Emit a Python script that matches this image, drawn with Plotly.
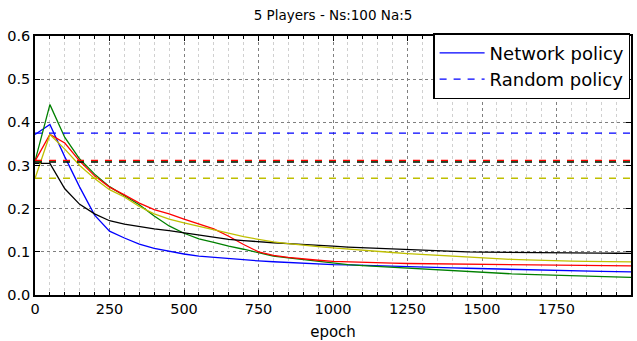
import plotly.graph_objects as go

epochs = list(range(0, 2001, 50))

net_blue = [0.372, 0.395, 0.32, 0.25, 0.185, 0.148, 0.132, 0.118, 0.108, 0.101,
            0.095, 0.090, 0.087, 0.084, 0.081, 0.079, 0.077, 0.075, 0.0735, 0.072,
            0.0705, 0.0697, 0.069, 0.068, 0.067, 0.066, 0.065, 0.064, 0.063, 0.062,
            0.061, 0.060, 0.059, 0.058, 0.057, 0.0565, 0.056, 0.055, 0.0545, 0.054, 0.0535]
net_green = [0.31, 0.441, 0.365, 0.315, 0.28, 0.251, 0.23, 0.209, 0.183, 0.16,
             0.143, 0.13, 0.122, 0.113, 0.106, 0.098, 0.090, 0.086, 0.082, 0.078,
             0.074, 0.0705, 0.068, 0.066, 0.064, 0.062, 0.060, 0.058, 0.0555, 0.0535,
             0.052, 0.0505, 0.049, 0.048, 0.047, 0.046, 0.045, 0.044, 0.043, 0.042, 0.041]
net_red = [0.31, 0.372, 0.352, 0.31, 0.276, 0.25, 0.232, 0.213, 0.198, 0.188,
           0.176, 0.165, 0.153, 0.136, 0.117, 0.100, 0.092, 0.087, 0.083, 0.0805,
           0.078, 0.0766, 0.0755, 0.0745, 0.0738, 0.073, 0.0725, 0.072, 0.0717, 0.0714,
           0.0712, 0.071, 0.0705, 0.070, 0.0695, 0.069, 0.0685, 0.068, 0.0678, 0.0676, 0.0674]
net_black = [0.305, 0.305, 0.246, 0.21, 0.188, 0.172, 0.164, 0.158, 0.153, 0.149,
             0.144, 0.139, 0.134, 0.129, 0.126, 0.123, 0.121, 0.119, 0.1165, 0.115,
             0.113, 0.111, 0.1095, 0.108, 0.1065, 0.105, 0.104, 0.1025, 0.101, 0.100,
             0.0995, 0.099, 0.0985, 0.098, 0.0978, 0.0975, 0.0972, 0.097, 0.0968, 0.0967, 0.0966]
net_yellow = [0.27, 0.372, 0.338, 0.30, 0.27, 0.244, 0.227, 0.205, 0.188, 0.176,
              0.167, 0.159, 0.150, 0.142, 0.135, 0.129, 0.123, 0.119, 0.115, 0.112,
              0.109, 0.106, 0.1035, 0.101, 0.0985, 0.096, 0.094, 0.092, 0.0895, 0.087,
              0.085, 0.0838, 0.0825, 0.0813, 0.080, 0.079, 0.0785, 0.078, 0.0775, 0.077, 0.0766]

random_vals = {"blue": 0.375, "green": 0.310, "red": 0.312, "black": 0.308, "yellow": 0.2705}

x_ticks = [0, 250, 500, 750, 1000, 1250, 1500, 1750]
y_ticks = [0.0, 0.1, 0.2, 0.3, 0.4, 0.5, 0.6]

colors = {"blue": "#0000ff", "green": "#008000", "red": "#ff0000",
          "black": "#000000", "yellow": "#bfbf00"}
networks = {"blue": net_blue, "green": net_green, "red": net_red,
            "black": net_black, "yellow": net_yellow}
order = ["blue", "green", "red", "black", "yellow"]

fig = go.Figure()
for name in order:
    fig.add_trace(go.Scatter(
        x=epochs, y=networks[name], mode="lines",
        line=dict(color=colors[name], width=1.3),
        name="Network policy", showlegend=(name == "blue")))
for name in order:
    fig.add_trace(go.Scatter(
        x=[epochs[0], epochs[-1]], y=[random_vals[name]] * 2, mode="lines",
        line=dict(color=colors[name], width=1.3, dash="7px,7px"),
        name="Random policy", showlegend=(name == "blue")))

tick_font = dict(family="DejaVu Sans", size=14.5, color="black")
axis_common = dict(
    showline=True, linecolor="black", linewidth=1.5, mirror="allticks",
    ticks="inside", ticklen=5, tickcolor="black",
    showgrid=True, gridcolor="#7f7f7f", griddash="dot", gridwidth=1,
    zeroline=False, automargin=False, tickfont=tick_font,
)

fig.update_xaxes(
    **axis_common, range=[0, 2000], tickmode="array", tickvals=x_ticks,
    minor=dict(dtick=50, tick0=0, ticks="inside", ticklen=3, tickcolor="black",
               showgrid=True, gridcolor="#d0d0d0", griddash="dot", gridwidth=1),
    title=dict(text="epoch", font=dict(family="DejaVu Sans", size=15, color="black"),
               standoff=10),
)
fig.update_yaxes(
    **axis_common, range=[0, 0.6], tickmode="array",
    tickvals=y_ticks, tickformat=".1f",
)

fig.update_layout(
    width=637, height=341,
    margin=dict(l=35, r=6, t=36, b=46),
    paper_bgcolor="white", plot_bgcolor="white",
    title=dict(text="5 Players - Ns:100 Na:5", x=0.5, xanchor="center", xref="paper",
               y=0.955, yanchor="middle", yref="container",
               font=dict(family="DejaVu Sans", size=13.5, color="black")),
    legend=dict(x=0.999, y=1.01, xanchor="right", yanchor="top",
                bgcolor="white", bordercolor="black", borderwidth=1.2,
                font=dict(family="DejaVu Sans", size=18, color="black"),
                itemwidth=45),
    showlegend=True,
)

fig.write_html("out.html", config={"displayModeBar": False},
               post_script="document.body.style.margin='0px';")
